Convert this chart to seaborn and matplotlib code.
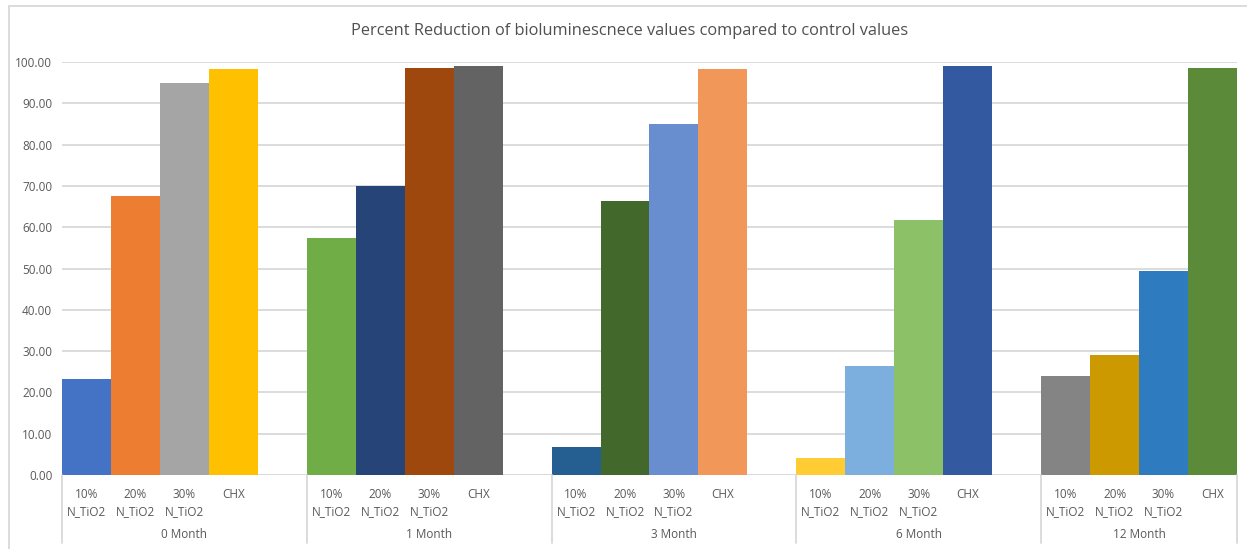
import matplotlib
matplotlib.use("Agg")
import matplotlib.pyplot as plt
from matplotlib.lines import Line2D
from matplotlib.patches import Rectangle
import pandas as pd
import seaborn as sns

# Data
periods = ["0 Month", "1 Month", "3 Month", "6 Month", "12 Month"]
treatments = ["10%\nN_TiO2", "20%\nN_TiO2", "30%\nN_TiO2", "CHX"]
month_0 = [23.3, 67.5, 94.8, 98.3]
month_1 = [57.4, 70.0, 98.6, 99.0]
month_3 = [6.9, 66.4, 85.1, 98.2]
month_6 = [4.0, 26.5, 61.7, 99.0]
month_12 = [24.0, 29.0, 49.3, 98.6]
series = [month_0, month_1, month_3, month_6, month_12]

bar_colors = [
    "#4472C4", "#ED7D31", "#A5A5A5", "#FFC000",
    "#70AD47", "#264478", "#9E480E", "#636363",
    "#255E91", "#43682B", "#698ED0", "#F1975A",
    "#FFCD33", "#7CAFDD", "#8CC168", "#3359A1",
    "#848484", "#CC9A00", "#2F7BC0", "#5B8A39",
]
title = "Percent Reduction of bioluminescnece values compared to control values"

# Category slots: four bars per period, with one empty slot between periods
slots, rows = [], []
k = 0
for gi, (p, vals) in enumerate(zip(periods, series)):
    for t, v in zip(treatments, vals):
        key = f"{p}|{t}"
        slots.append(key)
        rows.append({"slot": key, "value": v, "color": bar_colors[k]})
        k += 1
    if gi < len(periods) - 1:
        slots.append(f"{p}|gap")
df = pd.DataFrame(rows)
palette = dict(zip(df["slot"], df["color"]))

sns.set_theme(style="white")
plt.rcParams["font.family"] = ["Open Sans", "DejaVu Sans"]

fig = plt.figure(figsize=(12.47, 5.49), dpi=100)
ax = fig.add_axes([62 / 1247, 74 / 549, 1175 / 1247, 413 / 549])

sns.barplot(data=df, x="slot", y="value", hue="slot", order=slots,
            hue_order=list(df["slot"]), palette=palette, width=1.0,
            saturation=1, legend=False, ax=ax, linewidth=0)

ax.set_xlim(-0.5, len(slots) - 0.5)
ax.set_ylim(0, 100)
ax.set_yticks(range(0, 101, 10))
ax.set_yticklabels([f"{v:.2f}" for v in range(0, 101, 10)],
                   fontsize=8.5, color="#595959")
ax.tick_params(axis="y", length=0, pad=7)
ax.yaxis.grid(True, color="#D9D9D9", linewidth=1.3)
ax.set_axisbelow(True)
for s in ax.spines.values():
    s.set_visible(False)
ax.axhline(0, color="#D9D9D9", linewidth=1.3, zorder=0.5)

# Treatment labels under each bar
bar_pos = [i for i, s in enumerate(slots) if not s.endswith("|gap")]
ax.set_xticks(bar_pos)
ax.set_xticklabels([s.split("|")[1] for s in slots if not s.endswith("|gap")],
                   fontsize=8.5, color="#595959", linespacing=1.45)
for lab in ax.get_xticklabels():
    lab.set_verticalalignment("top")
    lab.set_horizontalalignment("center")
ax.tick_params(axis="x", length=0, pad=9)
ax.set_xlabel("")
ax.set_ylabel("")

# Period labels and separators for the two-level category axis
trans = ax.get_xaxis_transform()
bounds = [-0.5, 4.5, 9.5, 14.5, 19.5, len(slots) - 0.5]
for b in bounds:
    ax.add_line(Line2D([b, b], [0, -0.165], transform=trans, color="#D9D9D9",
                       linewidth=1.3, clip_on=False))
for p, a, b in zip(periods, bounds[:-1], bounds[1:]):
    ax.text((a + b) / 2, -0.145, p, transform=trans, ha="center", va="center",
            fontsize=8.5, color="#595959")

fig.text(0.505, 1 - 31 / 549, title, ha="center", va="center",
         fontsize=11.8, color="#505050")

# Chart area frame
fig.add_artist(Rectangle((9 / 1247, -0.05), 1.2, 1 - 6 / 549 + 0.05,
                         transform=fig.transFigure, fill=False,
                         edgecolor="#D9D9D9", linewidth=1.3))

fig.savefig("out.png", dpi=100, facecolor="white")
